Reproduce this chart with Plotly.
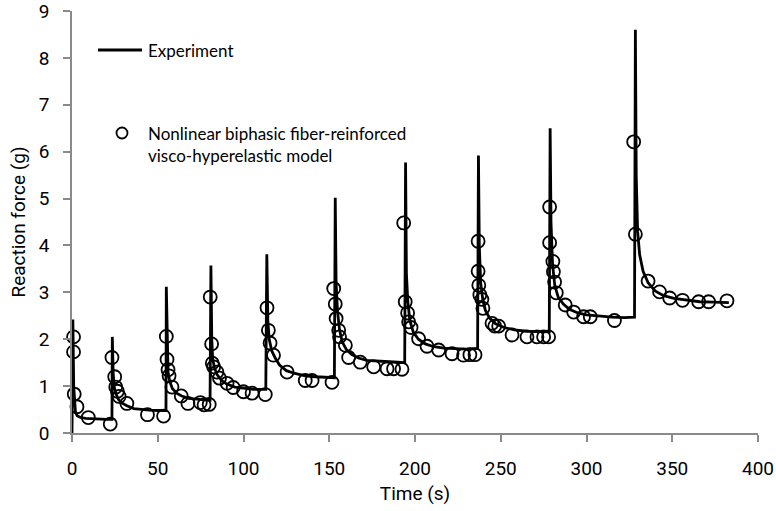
import plotly.graph_objects as go

# Experiment trace (time s, force g)
exp_time = [0, 0.5, 1.0, 1.5, 2, 3, 5, 8, 12, 16, 20, 23.3,
            23.5, 24, 24.5, 25.5, 27, 29, 32, 36, 40, 45, 50, 54.8,
            55, 55.5, 56, 57, 58.5, 61, 64, 68, 72, 76, 80.5,
            81, 81.5, 82, 83, 84.5, 87, 90, 95, 100, 106, 113,
            113.6, 114.2, 115, 116.5, 118.5, 121, 125, 130, 136, 142, 148, 153,
            153.5, 154, 154.8, 156, 157.5, 160, 163, 167, 172, 178, 185, 190, 194,
            194.5, 195, 195.8, 197, 199, 202, 206, 211, 217, 224, 230, 236.5,
            237, 237.5, 238.3, 239.5, 241, 243.5, 247, 252, 258, 265, 272, 278.3,
            278.8, 279.3, 280.2, 281.5, 283.5, 286.5, 290, 295, 300, 307, 315, 322, 328,
            328.5, 329, 329.8, 331, 333, 336, 340, 345, 351, 358, 366, 374, 383]
exp_force = [0, 2.42, 1.0, 0.6, 0.45, 0.37, 0.33, 0.31, 0.3, 0.3, 0.29, 0.29,
             2.05, 1.3, 1.0, 0.85, 0.72, 0.64, 0.58, 0.52, 0.5, 0.49, 0.48, 0.48,
             3.12, 1.6, 1.3, 1.1, 0.95, 0.85, 0.79, 0.74, 0.72, 0.71, 0.7,
             3.57, 2.0, 1.6, 1.4, 1.25, 1.13, 1.05, 0.98, 0.95, 0.93, 0.93,
             3.81, 2.4, 2.0, 1.75, 1.6, 1.45, 1.33, 1.27, 1.22, 1.2, 1.19, 1.18,
             5.02, 3.2, 2.6, 2.2, 1.95, 1.78, 1.68, 1.6, 1.55, 1.53, 1.52, 1.51, 1.5,
             5.77, 3.4, 2.8, 2.4, 2.15, 2.0, 1.9, 1.84, 1.81, 1.8, 1.79, 1.8,
             5.92, 4.0, 3.2, 2.85, 2.62, 2.45, 2.33, 2.25, 2.2, 2.17, 2.16, 2.16,
             6.5, 4.5, 3.6, 3.15, 2.9, 2.75, 2.64, 2.56, 2.52, 2.49, 2.47, 2.46, 2.47,
             8.6, 5.5, 4.3, 3.8, 3.45, 3.2, 3.03, 2.93, 2.87, 2.83, 2.8, 2.79, 2.78]

# Model points (time s, force g)
model_time = [0.9, 0.9, 1.3, 2.9, 9.5, 22.3,
              23.3, 24.9, 25.5, 26.5, 27.5, 32, 44, 53.4,
              55, 55.4, 56, 56.6, 58.3, 63.7, 67.6, 74.8, 77, 80,
              80.6, 81.4, 81.8, 82.6, 84.5, 86, 90.4, 94, 100, 105, 112.7,
              113.7, 114.5, 115.5, 117.5, 125.4, 136, 140, 151.6,
              152.6, 153.5, 154, 155.5, 156, 159.4, 161.3, 168.1, 175.9, 183.7, 187.5, 192.4,
              193.4, 194.3, 195.7, 196.3, 197.7, 202.1, 207, 213.8, 221.6, 228.3, 232, 235,
              236.8, 236.8, 237.2, 237.8, 239, 239.6, 244.9, 246.5, 248.8, 256.6, 265.3, 271.1, 275, 277.9,
              278.5, 278.5, 280.4, 280.7, 281.4, 282.4, 287.6, 292.5, 298.3, 302.2, 316.3,
              327.5, 328.5, 335.9, 342.6, 348.5, 356, 365.4, 371.2, 381.9]
model_force = [2.05, 1.73, 0.83, 0.56, 0.33, 0.19,
               1.61, 1.2, 0.98, 0.89, 0.78, 0.63, 0.39, 0.36,
               2.06, 1.57, 1.35, 1.22, 0.98, 0.79, 0.63, 0.65, 0.6, 0.61,
               2.9, 1.9, 1.49, 1.41, 1.3, 1.17, 1.06, 0.97, 0.88, 0.85, 0.82,
               2.67, 2.19, 1.92, 1.66, 1.3, 1.12, 1.12, 1.08,
               3.08, 2.75, 2.44, 2.19, 2.05, 1.87, 1.61, 1.51, 1.41, 1.37, 1.37, 1.36,
               4.48, 2.8, 2.56, 2.37, 2.25, 2.01, 1.85, 1.77, 1.69, 1.66, 1.67, 1.67,
               4.09, 3.45, 3.15, 2.95, 2.85, 2.66, 2.34, 2.28, 2.28, 2.09, 2.05, 2.05, 2.05, 2.05,
               4.82, 4.06, 3.66, 3.44, 3.22, 2.99, 2.73, 2.58, 2.48, 2.48, 2.40,
               6.21, 4.24, 3.24, 3.01, 2.88, 2.83, 2.8, 2.8, 2.82]

x_ticks = [0, 50, 100, 150, 200, 250, 300, 350, 400]
y_ticks = [0, 1, 2, 3, 4, 5, 6, 7, 8, 9]

L, R, T, B = 72, 18, 11, 78
W, H = 776, 511
pw, ph = W - L - R, H - T - B

def px(xp):
    return (xp - L) / pw

def py(yp):
    return (H - B - yp) / ph

fig = go.Figure()
fig.add_trace(go.Scatter(x=exp_time, y=exp_force, mode="lines",
                         line=dict(color="black", width=2.8), showlegend=False,
                         name="Experiment", cliponaxis=False))
fig.add_trace(go.Scatter(x=model_time, y=model_force, mode="markers",
                         marker=dict(symbol="circle-open", size=13, color="black",
                                     line=dict(width=1.8, color="black")),
                         showlegend=False, cliponaxis=False,
                         name="Nonlinear biphasic fiber-reinforced visco-hyperelastic model"))

axis_common = dict(showline=True, linecolor="#8a8a8a", linewidth=1.5,
                   ticks="outside", tickcolor="#8a8a8a", ticklen=7, tickwidth=1.5,
                   showgrid=False, zeroline=False, automargin=False,
                   ticklabeloverflow="allow",
                   tickfont=dict(family="Roboto", size=19, color="black"))

fig.update_layout(
    width=W, height=H,
    margin=dict(l=L, r=R, t=T, b=B),
    paper_bgcolor="white", plot_bgcolor="white",
    xaxis=dict(range=[0, 400.001], tickvals=x_ticks, ticklabelstandoff=10,
               title=dict(text="Time (s)", font=dict(family="Roboto", size=19, color="black"),
                          standoff=8),
               **axis_common),
    yaxis=dict(range=[0, 9.001], tickvals=y_ticks, ticklabelstandoff=10,
               title=dict(text="Reaction force (g)", font=dict(family="Roboto", size=19, color="black"),
                          standoff=8),
               **axis_common),
    showlegend=False,
    shapes=[
        dict(type="line", xref="paper", yref="paper", x0=px(98), x1=px(142),
             y0=py(50), y1=py(50), line=dict(color="black", width=2.8)),
        dict(type="circle", xref="paper", yref="paper", xsizemode="pixel", ysizemode="pixel",
             xanchor=px(122), yanchor=py(133), x0=-5.5, x1=5.5, y0=-5.5, y1=5.5,
             line=dict(color="black", width=1.8)),
    ],
    annotations=[
        dict(text="Experiment", xref="paper", yref="paper", x=px(146), y=py(50),
             xanchor="left", yanchor="middle", showarrow=False,
             font=dict(family="Lato", size=17, color="black")),
        dict(text="Nonlinear biphasic fiber-reinforced<br>visco-hyperelastic model",
             xref="paper", yref="paper", x=px(146), y=py(145), align="left",
             xanchor="left", yanchor="middle", showarrow=False,
             font=dict(family="Lato", size=17, color="black")),
    ],
)

fig.write_html("out.html", config={"displayModeBar": False},
               post_script="document.body.style.margin='0';document.body.style.overflow='hidden';")
